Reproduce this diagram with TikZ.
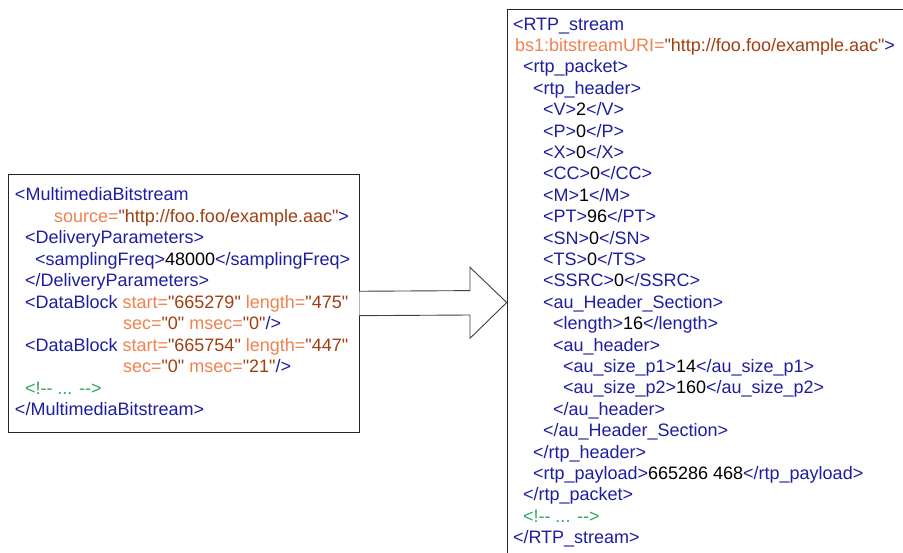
\documentclass[tikz,border=0pt]{standalone}
\usepackage{fontspec}
\newfontfamily\xmlfont{Liberation Sans}
\usetikzlibrary{calc}
\definecolor{tagblue}{RGB}{30,30,160}
\definecolor{attorange}{RGB}{240,130,80}
\definecolor{valbrown}{RGB}{160,64,16}
\definecolor{comgreen}{RGB}{50,165,95}
\newcommand\xtag[1]{\textcolor{tagblue}{#1}}
\newcommand\xatt[1]{\textcolor{attorange}{#1}}
\newcommand\xval[1]{\textcolor{valbrown}{#1}}
\newcommand\xcom[1]{\textcolor{comgreen}{#1}}
\tikzset{
  txt/.style={anchor=base west, inner sep=0pt, outer sep=0pt, font=\xmlfont\fontsize{18}{21.5}\selectfont},
  xmlbox/.style={draw=black!85, line width=0.9pt, anchor=north west, inner sep=0pt, fill=white},
  blockarrow/.style={draw=black!75, line width=0.9pt, fill=white}
}
\begin{document}
\begin{tikzpicture}[x=1pt,y=-1pt]
\useasboundingbox (0,0) rectangle (903,552);
\clip (0,0) rectangle (903,552);
\fill[white] (0,0) rectangle (903,552);
% boxes
\node[xmlbox, minimum width=350.5pt, minimum height=258pt] (lbox) at (8,174) {};
\node[xmlbox, minimum width=420pt, minimum height=570pt] (rbox) at (506.7,8.5) {};
% block arrow
\coordinate (tip) at (rbox.west |- 0,302.5);
\coordinate (hb) at (470,302.8);
\draw[blockarrow] ($(lbox.east)+(0,-12.2)$) -- ($(hb)+(0,-12.2)$) -- ($(hb)+(0,-35.5)$)
  -- (tip) -- ($(hb)+(0,35.5)$) -- ($(hb)+(0,12.2)$) -- ($(lbox.east)+(0,12.2)$);
% left box text
\node[txt] (l1) at (15,200.7) {\xtag{<MultimediaBitstream}};
\node[txt] (l2) at (54,222.2) {\xatt{source=}\xval{"http://foo.foo/example.aac"}\xtag{>}};
\node[txt] (l3) at (25,243.7) {\xtag{<DeliveryParameters>}};
\node[txt] (l4) at (35,265.2) {\xtag{<samplingFreq>}48000\xtag{</samplingFreq>}};
\node[txt] (l5) at (25,286.7) {\xtag{</DeliveryParameters>}};
\node[txt] (l6) at (25,308.2) {\xtag{<DataBlock} \xatt{start=}\xval{"665279"} \xatt{length=}\xval{"475"}};
\node[txt] (l7) at (123,329.7) {\xatt{sec=}\xval{"0"} \xatt{msec=}\xval{"0"}\xtag{/>}};
\node[txt] (l8) at (25,351.2) {\xtag{<DataBlock} \xatt{start=}\xval{"665754"} \xatt{length=}\xval{"447"}};
\node[txt] (l9) at (123,372.7) {\xatt{sec=}\xval{"0"} \xatt{msec=}\xval{"21"}\xtag{/>}};
\node[txt] (l10) at (25,394.2) {\xcom{<!-{}- ... -{}->}};
\node[txt] (l11) at (15,415.7) {\xtag{</MultimediaBitstream>}};
% right box text
\node[txt] (r1) at (513,30.0) {\xtag{<RTP\_stream}};
\node[txt] (r2) at (515,51.4) {\xatt{bs1:bitstreamURI=}\xval{"http://foo.foo/example.aac"}\xtag{>}};
\node[txt] (r3) at (523,72.8) {\xtag{<rtp\_packet>}};
\node[txt] (r4) at (533,94.2) {\xtag{<rtp\_header>}};
\node[txt] (r5) at (543,115.6) {\xtag{<V>}2\xtag{</V>}};
\node[txt] (r6) at (543,137.0) {\xtag{<P>}0\xtag{</P>}};
\node[txt] (r7) at (543,158.4) {\xtag{<X>}0\xtag{</X>}};
\node[txt] (r8) at (543,179.8) {\xtag{<CC>}0\xtag{</CC>}};
\node[txt] (r9) at (543,201.2) {\xtag{<M>}1\xtag{</M>}};
\node[txt] (r10) at (543,222.6) {\xtag{<PT>}96\xtag{</PT>}};
\node[txt] (r11) at (543,244.0) {\xtag{<SN>}0\xtag{</SN>}};
\node[txt] (r12) at (543,265.4) {\xtag{<TS>}0\xtag{</TS>}};
\node[txt] (r13) at (543,286.8) {\xtag{<SSRC>}0\xtag{</SSRC>}};
\node[txt] (r14) at (543,308.2) {\xtag{<au\_Header\_Section>}};
\node[txt] (r15) at (553,329.6) {\xtag{<length>}16\xtag{</length>}};
\node[txt] (r16) at (553,351.0) {\xtag{<au\_header>}};
\node[txt] (r17) at (563,372.4) {\xtag{<au\_size\_p1>}14\xtag{</au\_size\_p1>}};
\node[txt] (r18) at (563,393.8) {\xtag{<au\_size\_p2>}160\xtag{</au\_size\_p2>}};
\node[txt] (r19) at (553,415.2) {\xtag{</au\_header>}};
\node[txt] (r20) at (543,436.6) {\xtag{</au\_Header\_Section>}};
\node[txt] (r21) at (533,458.0) {\xtag{</rtp\_header>}};
\node[txt] (r22) at (533,479.4) {\xtag{<rtp\_payload>}665286 468\xtag{</rtp\_payload>}};
\node[txt] (r23) at (523,500.8) {\xtag{</rtp\_packet>}};
\node[txt] (r24) at (523,522.2) {\xcom{<!-{}- ... -{}->}};
\node[txt] (r25) at (513,543.6) {\xtag{</RTP\_stream>}};
\end{tikzpicture}
\end{document}
